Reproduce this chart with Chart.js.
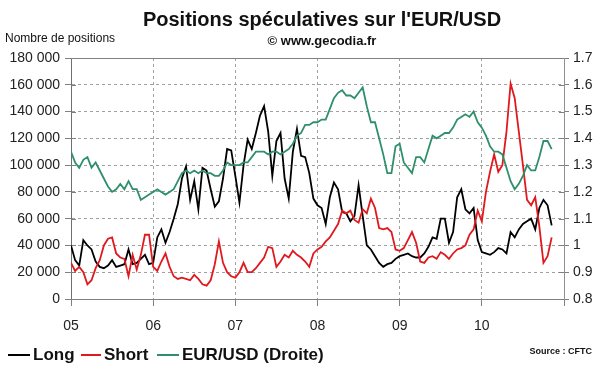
<!DOCTYPE html>
<html><head><meta charset="utf-8">
<script src="https://cdn.jsdelivr.net/npm/chart.js@4.4.0/dist/chart.umd.min.js"></script>
<style>
html,body{margin:0;padding:0;background:#fff;}
#wrap{position:relative;width:600px;height:372px;overflow:hidden;font-family:"Liberation Sans",Arial,sans-serif;color:#111;}
canvas{position:absolute;left:0;top:0;}
.t{position:absolute;white-space:nowrap;}
.sw{position:absolute;height:2px;}
</style></head><body>
<div id="wrap">
<canvas id="c" width="600" height="372"></canvas>
<div class="t" style="left:0;width:644px;text-align:center;top:7px;font-size:20px;line-height:24px;font-weight:bold;">Positions spéculatives sur l'EUR/USD</div>
<div class="t" style="left:0;width:644px;text-align:center;top:33px;font-size:13px;line-height:15px;font-weight:bold;">© www.gecodia.fr</div>
<div class="t" style="left:5px;top:31px;font-size:12px;line-height:14px;">Nombre de positions</div>
<div class="sw" style="left:8px;width:22px;top:354px;background:#000;"></div>
<div class="t" style="left:33px;top:345px;font-size:17px;line-height:20px;font-weight:bold;">Long</div>
<div class="sw" style="left:81px;width:20px;top:354px;background:#e0191e;"></div>
<div class="t" style="left:104px;top:345px;font-size:17px;line-height:20px;font-weight:bold;">Short</div>
<div class="sw" style="left:157px;width:22px;top:354px;background:#2f8f6b;"></div>
<div class="t" style="left:182px;top:345px;font-size:17px;line-height:20px;font-weight:bold;">EUR/USD (Droite)</div>
<div class="t" style="right:8px;top:346px;font-size:9px;line-height:11px;font-weight:bold;">Source : CFTC</div>
</div>
<script>
const dates = [2005.00,2005.05,2005.10,2005.15,2005.20,2005.25,2005.30,2005.35,2005.40,2005.45,
2005.50,2005.55,2005.60,2005.65,2005.70,2005.75,2005.80,2005.85,2005.90,2005.95,
2006.00,2006.05,2006.10,2006.15,2006.20,2006.25,2006.30,2006.35,2006.40,2006.45,
2006.50,2006.55,2006.60,2006.65,2006.70,2006.75,2006.80,2006.85,2006.90,2006.95,
2007.00,2007.05,2007.10,2007.15,2007.20,2007.25,2007.30,2007.35,2007.40,2007.45,
2007.50,2007.55,2007.60,2007.65,2007.70,2007.75,2007.80,2007.85,2007.90,2007.95,
2008.00,2008.05,2008.10,2008.15,2008.20,2008.25,2008.30,2008.35,2008.40,2008.45,
2008.50,2008.55,2008.60,2008.65,2008.70,2008.75,2008.80,2008.85,2008.90,2008.95,
2009.00,2009.05,2009.10,2009.15,2009.20,2009.25,2009.30,2009.35,2009.40,2009.45,
2009.50,2009.55,2009.60,2009.65,2009.70,2009.75,2009.80,2009.85,2009.90,2009.95,
2010.00,2010.05,2010.10,2010.15,2010.20,2010.25,2010.30,2010.35,2010.40,2010.45,
2010.50,2010.55,2010.60,2010.65,2010.70,2010.75,2010.80,2010.85];

const longPos = [40000,29000,25000,44000,40000,37000,28000,24000,23000,25000,
29000,24000,25000,26000,37000,26000,27000,30000,33000,26000,
27000,46000,52000,42000,50000,60000,71000,90000,99000,74000,
88000,67000,98000,96000,82000,69000,73000,90000,112000,111000,
92000,72000,100000,119000,112000,124000,137000,144000,125000,92000,
118000,124000,90000,75000,110000,127000,107000,106000,94000,75000,
70000,68000,56000,76000,87000,82000,65000,64000,58000,62000,
85000,62000,40000,37000,32000,27000,24000,26000,27000,30000,
32000,33000,34000,32000,31000,31000,34000,39000,46000,45000,
60000,60000,42000,50000,76000,82000,67000,64000,68000,44000,
35000,34000,33000,35000,38000,37000,34000,50000,46000,52000,
56000,58000,60000,52000,68000,74000,70000,55000];

const shortPos = [27000,21000,24000,20000,11000,14000,23000,29000,40000,45000,
46000,34000,31000,30000,17000,33000,22000,33000,48000,48000,
24000,21000,28000,34000,24000,17000,15000,16000,15000,14000,
18000,15000,11000,10000,14000,26000,43000,27000,20000,17000,
16000,20000,27000,20000,20000,23000,27000,31000,39000,38000,
24000,28000,33000,31000,36000,33000,31000,28000,24000,34000,
37000,39000,43000,46000,51000,56000,66000,64000,66000,59000,
57000,67000,64000,75000,68000,53000,52000,53000,50000,37000,
36000,38000,44000,50000,42000,28000,27000,31000,32000,30000,
35000,33000,30000,34000,37000,38000,40000,48000,52000,66000,
58000,80000,95000,108000,95000,100000,125000,161000,150000,125000,
100000,74000,70000,76000,54000,27000,32000,46000];

const eurusd = [1.35,1.31,1.29,1.32,1.33,1.29,1.31,1.28,1.25,1.22,
1.20,1.21,1.23,1.21,1.24,1.21,1.21,1.17,1.18,1.19,
1.20,1.21,1.20,1.19,1.20,1.21,1.24,1.27,1.28,1.27,
1.28,1.27,1.28,1.27,1.27,1.26,1.26,1.28,1.31,1.30,
1.30,1.30,1.31,1.31,1.33,1.35,1.35,1.35,1.34,1.35,
1.35,1.34,1.35,1.36,1.38,1.41,1.42,1.45,1.45,1.46,
1.46,1.47,1.47,1.51,1.55,1.57,1.58,1.56,1.56,1.55,
1.57,1.59,1.52,1.46,1.46,1.40,1.34,1.27,1.27,1.37,
1.38,1.31,1.29,1.27,1.33,1.33,1.31,1.36,1.41,1.40,
1.41,1.42,1.42,1.44,1.47,1.48,1.49,1.48,1.50,1.46,
1.44,1.41,1.37,1.35,1.35,1.34,1.29,1.24,1.21,1.23,
1.26,1.30,1.28,1.28,1.33,1.39,1.39,1.36];

const FONT = '"Liberation Sans", Arial, sans-serif';
Chart.defaults.font.family = FONT;

const pts = arr => dates.map((d, i) => ({x: d, y: arr[i]}));
const spaced = v => String(v).replace(/\B(?=(\d{3})+(?!\d))/g, ' ');

const frame = {
  id: 'frame',
  beforeDatasetsDraw(chart) {
    const {ctx, chartArea: a, scales} = chart;
    ctx.save();
    ctx.strokeStyle = '#808080';
    ctx.lineWidth = 1;
    ctx.beginPath();
    ctx.moveTo(a.left, Math.round(a.top) + 0.5);
    ctx.lineTo(a.right, Math.round(a.top) + 0.5);
    scales.y.ticks.forEach(t => {
      const y = Math.round(scales.y.getPixelForValue(t.value)) + 0.5;
      ctx.moveTo(a.left, y); ctx.lineTo(a.left + 5, y);
    });
    scales.y1.ticks.forEach(t => {
      const y = Math.round(scales.y1.getPixelForValue(t.value)) + 0.5;
      ctx.moveTo(a.right - 5, y); ctx.lineTo(a.right, y);
    });
    ctx.stroke();
    ctx.restore();
  }
};

new Chart(document.getElementById('c'), {
  type: 'line',
  data: {
    datasets: [
      {label: 'Long', data: pts(longPos), yAxisID: 'y', borderColor: '#000000', borderWidth: 1.8, pointRadius: 0, order: 3},
      {label: 'Short', data: pts(shortPos), yAxisID: 'y', borderColor: '#e0191e', borderWidth: 1.8, pointRadius: 0, order: 2},
      {label: 'EUR/USD (Droite)', data: pts(eurusd), yAxisID: 'y1', borderColor: '#2f8f6b', borderWidth: 1.8, pointRadius: 0, order: 1}
    ]
  },
  options: {
    responsive: false,
    animation: false,
    devicePixelRatio: 1,
    layout: {padding: {top: 58, left: 0, right: 0, bottom: 0}},
    plugins: {legend: {display: false}, tooltip: {enabled: false}, title: {display: false}},
    scales: {
      x: {
        type: 'linear', min: 2005, max: 2011,
        afterFit(s) { s.height = 73; },
        ticks: {stepSize: 1, autoSkip: false, maxRotation: 0, padding: 12, color: '#222',
                font: {size: 14},
                callback: v => (v < 2011 ? String(Math.round(v)).slice(2) : '')},
        grid: {color: '#a0a0a0', lineWidth: 1, tickColor: '#808080', tickLength: 7},
        border: {color: '#808080', width: 1, dash: [3, 3]}
      },
      y: {
        position: 'left', min: 0, max: 180000,
        afterFit(s) { s.width = 71; },
        ticks: {stepSize: 20000, padding: 5, color: '#222', font: {size: 14}, callback: v => spaced(v)},
        grid: {color: '#a0a0a0', lineWidth: 1, tickColor: '#808080', tickLength: 6},
        border: {color: '#707070', width: 1, dash: [3, 3]}
      },
      y1: {
        position: 'right', min: 0.8, max: 1.7,
        afterFit(s) { s.width = 36; },
        ticks: {stepSize: 0.1, padding: 4, color: '#222', font: {size: 14},
                callback: v => String(Math.round(v * 10) / 10)},
        grid: {drawOnChartArea: false, tickColor: '#808080', tickLength: 5},
        border: {color: '#909090', width: 1}
      }
    }
  },
  plugins: [frame]
});
</script>
</body></html>
